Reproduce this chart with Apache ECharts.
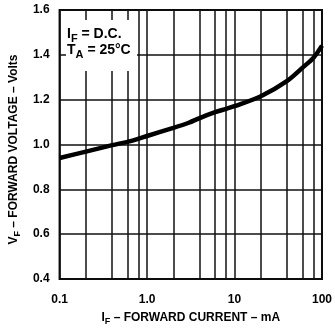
<!DOCTYPE html>
<html>
<head>
<meta charset="utf-8">
<script src="https://cdn.jsdelivr.net/npm/echarts@6/dist/echarts.min.js"></script>
<style>
html,body{margin:0;padding:0;background:#fff;}
#chart{width:335px;height:331px;}
</style>
</head>
<body>
<div id="chart"></div>
<script>
// Forward current (mA) and forward voltage (V)
const currentMA = [0.1, 0.2, 0.4, 0.6, 0.8, 1, 2, 3, 4, 6, 8, 10, 20, 40, 60, 80, 100];
const voltageV  = [0.94, 0.968, 0.997, 1.012, 1.026, 1.038, 1.074, 1.097, 1.118, 1.144, 1.159, 1.171, 1.215, 1.284, 1.343, 1.387, 1.441];
const xTickLabels = ['0.1', '1.0', '10', '100'];
const minorGridMA = [0.2, 0.4, 0.6, 0.8, 2, 4, 6, 8, 20, 40, 60, 80];
const yMin = 0.4, yMax = 1.6, yStep = 0.2;

const FONT = 'Liberation Sans';
const gridLine = { color: '#111', width: 1.5 };
const subRich = (size) => ({
  n: { fontFamily: FONT, fontWeight: 'bold', fontSize: size, color: '#000', lineHeight: size, verticalAlign: 'top' },
  s: { fontFamily: FONT, fontWeight: 'bold', fontSize: size - 3, color: '#000', lineHeight: size - 3, padding: [Math.round(size * 0.45), 0, 0, 0], verticalAlign: 'top' }
});

const chart = echarts.init(document.getElementById('chart'), null, { renderer: 'canvas' });
chart.setOption({
  animation: false,
  backgroundColor: '#fff',
  grid: { left: 56, right: 8, top: 10, bottom: 49, show: true, borderColor: '#000', borderWidth: 2 },
  xAxis: {
    type: 'log', logBase: 10, min: 0.1, max: 100,
    axisLine: { show: false }, axisTick: { show: false },
    splitLine: { show: true, lineStyle: gridLine },
    axisLabel: {
      margin: 15, fontFamily: FONT, fontWeight: 'bold', fontSize: 12, color: '#000',
      formatter: (v, i) => xTickLabels[i] !== undefined ? xTickLabels[i] : ''
    },
    name: '{n|I}{s|F}{n| – FORWARD CURRENT – mA}',
    nameLocation: 'middle', nameGap: 33,
    nameTextStyle: { rich: subRich(12) }
  },
  yAxis: {
    type: 'value', min: yMin, max: yMax, interval: yStep,
    axisLine: { show: false }, axisTick: { show: false },
    splitLine: { show: true, lineStyle: gridLine },
    axisLabel: { margin: 10, fontFamily: FONT, fontWeight: 'bold', fontSize: 12, color: '#000',
      formatter: v => v.toFixed(1) },
    name: '{n|V}{s|F}{n| – FORWARD VOLTAGE – Volts}',
    nameLocation: 'middle', nameGap: 36,
    nameTextStyle: { rich: subRich(12), padding: [0, 10, 0, 0] }
  },
  series: [{
    type: 'line',
    data: currentMA.map((c, i) => [c, voltageV[i]]),
    smooth: 0.3, symbol: 'none',
    lineStyle: { color: '#000', width: 4.5 },
    z: 5,
    markLine: {
      silent: true, symbol: 'none', label: { show: false },
      lineStyle: { color: '#111', width: 1.5, type: 'solid' },
      data: minorGridMA.map(v => ({ xAxis: v })),
      z: 1
    }
  }],
  graphic: [
    { type: 'rect', z: 100, shape: { x: 66, y: 20, width: 71, height: 51 }, style: { fill: '#fff' } },
    { type: 'text', z: 101, x: 67, y: 27, style: { text: '{n|I}{s|F}{n| = D.C.}', rich: subRich(14) } },
    { type: 'text', z: 101, x: 67, y: 43, style: { text: '{n|T}{s|A}{n| = 25°C}', rich: subRich(14) } }
  ]
});
</script>
</body>
</html>
